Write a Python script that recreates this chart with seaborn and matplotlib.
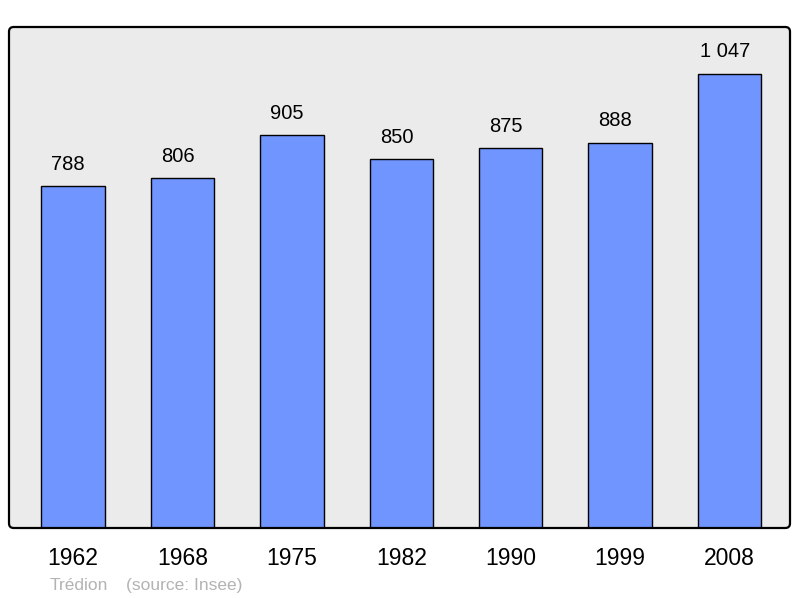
import matplotlib
matplotlib.use('Agg')
import matplotlib.pyplot as plt
import seaborn as sns
import pandas as pd
from matplotlib.patches import FancyBboxPatch

# Population data
YEARS = ['1962', '1968', '1975', '1982', '1990', '1999', '2008']
POPULATION = [788, 806, 905, 850, 875, 888, 1047]
VALUE_LABELS = ['788', '806', '905', '850', '875', '888', '1 047']
TOWN = 'Trédion'
SOURCE = '(source: Insee)'

BAR_COLOR = '#7095ff'
BG_COLOR = '#ebebeb'

sns.set_style('white')
plt.rcParams['font.family'] = ['Liberation Sans', 'DejaVu Sans']
plt.rcParams['text.color'] = 'black'
plt.rcParams['xtick.color'] = 'black'

df = pd.DataFrame({'year': YEARS, 'population': POPULATION})

fig = plt.figure(figsize=(8, 5.98), dpi=100)
ax = fig.add_axes([9 / 800, 70 / 598, 781 / 800, 501 / 598])
ax.set_facecolor('none')

sns.barplot(data=df, x='year', y='population', color=BAR_COLOR,
            saturation=1, width=0.58, edgecolor='black', linewidth=1,
            ax=ax, zorder=2)

ax.set_xlim(-0.585, 6.553)
ax.set_ylim(0, 1155)

# value labels above bars (sit slightly left of bar centre, as in the original)
for i, (val, lab) in enumerate(zip(POPULATION, VALUE_LABELS)):
    ax.annotate(lab, (i, val), xytext=(-3.5, 9), textcoords='offset points',
                ha='center', va='bottom', fontsize=14.5, color='black')

# rounded background and frame
aspect = 781 / 501
bg = FancyBboxPatch((0, 0), 1, 1, boxstyle='round,pad=0,rounding_size=0.006',
                    mutation_aspect=aspect, transform=ax.transAxes,
                    facecolor=BG_COLOR, edgecolor='none', zorder=0, clip_on=False)
ax.add_patch(bg)
frame = FancyBboxPatch((0, 0), 1, 1, boxstyle='round,pad=0,rounding_size=0.006',
                       mutation_aspect=aspect, transform=ax.transAxes,
                       facecolor='none', edgecolor='black', linewidth=1.6,
                       zorder=5, clip_on=False)
ax.add_patch(frame)

for spine in ax.spines.values():
    spine.set_visible(False)

ax.set_xlabel('')
ax.set_ylabel('')
ax.set_yticks([])
ax.tick_params(axis='x', length=0, pad=14, labelsize=16.5, labelcolor='black')

fig.text(50 / 800, 1 - 590 / 598, TOWN, color='#b3b3b3', fontsize=12.5, va='baseline')
fig.text(126 / 800, 1 - 590 / 598, SOURCE, color='#b3b3b3', fontsize=12.5, va='baseline')

fig.savefig('out.png', dpi=100)
